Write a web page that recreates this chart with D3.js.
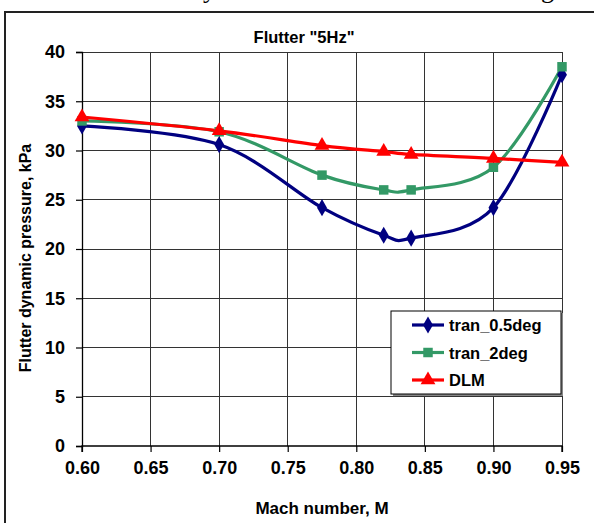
<!DOCTYPE html>
<html><head><meta charset="utf-8">
<script src="https://cdn.jsdelivr.net/npm/d3@7"></script>
<style>
body{margin:0;background:#fff;}
svg{display:block;font-family:"Liberation Sans",Arial,sans-serif;}
</style></head>
<body>
<svg id="c" width="594" height="523"></svg>
<script>
const mach = [0.60, 0.70, 0.775, 0.82, 0.84, 0.90, 0.95];
const tran05 = [32.5, 30.6, 24.2, 21.4, 21.1, 24.2, 37.7];
const tran2 = [33.0, 31.9, 27.5, 26.0, 26.0, 28.3, 38.5];
const dlm = [33.4, 32.0, 30.5, 29.9, 29.6, 29.2, 28.8];
const seriesNames = ["tran_0.5deg", "tran_2deg", "DLM"];
const xTicks = [0.60, 0.65, 0.70, 0.75, 0.80, 0.85, 0.90, 0.95];
const yTicks = [0, 5, 10, 15, 20, 25, 30, 35, 40];

const svg = d3.select("#c");
const x = d3.scaleLinear().domain([0.60, 0.95]).range([82, 562]);
const y = d3.scaleLinear().domain([0, 40]).range([446, 52]);

// partial document text above the figure
svg.append("text").attr("x", 203).attr("y", -2).attr("font-family", "Liberation Serif")
  .attr("font-size", 26).text("y");
svg.append("text").attr("x", 541).attr("y", -2).attr("font-family", "Liberation Serif")
  .attr("font-size", 26).text("g");

// outer frame
svg.append("rect").attr("x", 5).attr("y", 12).attr("width", 600).attr("height", 520)
  .attr("fill", "none").attr("stroke", "#222").attr("stroke-width", 2);

// title
svg.append("text").attr("x", 304).attr("y", 43).attr("text-anchor", "middle")
  .attr("font-weight", "bold").attr("font-size", 16.5).text('Flutter "5Hz"');

// grid
const g = svg.append("g");
g.selectAll(".hg").data(yTicks.filter(d => d > 0)).join("line")
  .attr("x1", x(0.60)).attr("x2", x(0.95)).attr("y1", d => y(d)).attr("y2", d => y(d))
  .attr("stroke", "#333").attr("stroke-width", 1).attr("shape-rendering", "crispEdges");
g.selectAll(".vg").data(xTicks.filter(d => d > 0.6)).join("line")
  .attr("y1", y(0)).attr("y2", y(40)).attr("x1", d => x(d)).attr("x2", d => x(d))
  .attr("stroke", "#333").attr("stroke-width", 1).attr("shape-rendering", "crispEdges");

// axes
const xAxis = d3.axisBottom(x).tickValues(xTicks).tickFormat(d3.format(".2f")).tickSize(6).tickPadding(9);
const yAxis = d3.axisLeft(y).tickValues(yTicks).tickFormat(d3.format("d")).tickSize(6).tickPadding(11);
const gx = svg.append("g").attr("transform", `translate(0,${y(0)})`).call(xAxis);
const gy = svg.append("g").attr("transform", `translate(${x(0.60)},0)`).call(yAxis);
[gx, gy].forEach(a => {
  a.select(".domain").attr("stroke", "#000").attr("stroke-width", 1.3);
  a.selectAll(".tick line").attr("stroke", "#000").attr("stroke-width", 1.2);
  a.selectAll("text").attr("font-family", "Liberation Sans").attr("font-weight", "bold")
    .attr("font-size", 18).attr("fill", "#000");
});
gx.select(".domain").attr("d", `M${x(0.60)},6V0H${x(0.95)}V6`);

// axis titles
svg.append("text").attr("x", 322).attr("y", 514).attr("text-anchor", "middle")
  .attr("font-weight", "bold").attr("font-size", 17).text("Mach number, M");
svg.append("text").attr("transform", "translate(31,258) rotate(-90)").attr("text-anchor", "middle")
  .attr("font-weight", "bold").attr("font-size", 16).text("Flutter dynamic pressure, kPa");

// series
const series = [
  {name: seriesNames[0], vals: tran05, color: "#000080", sym: d3.symbolDiamond, size: 85},
  {name: seriesNames[1], vals: tran2, color: "#339966", sym: d3.symbolSquare, size: 90},
  {name: seriesNames[2], vals: dlm, color: "#ff0000", sym: d3.symbolTriangle, size: 95}
];
const line = d3.line().x(d => x(d[0])).y(d => y(d[1])).curve(d3.curveCardinal.tension(0));
const plotG = svg.append("g");
series.forEach(s => {
  const pts = mach.map((m, i) => [m, s.vals[i]]);
  plotG.append("path").attr("d", line(pts)).attr("fill", "none")
    .attr("stroke", s.color).attr("stroke-width", 3.2);
});
series.forEach(s => {
  const pts = mach.map((m, i) => [m, s.vals[i]]);
  plotG.selectAll(null).data(pts).join("path")
    .attr("transform", d => `translate(${x(d[0])},${y(d[1])})`)
    .attr("d", d3.symbol().type(s.sym).size(s.size)).attr("fill", s.color);
});

// legend
const lg = svg.append("g");
lg.append("rect").attr("x", 393).attr("y", 313).attr("width", 170).attr("height", 83).attr("fill", "#888");
lg.append("rect").attr("x", 391).attr("y", 311).attr("width", 170).attr("height", 83)
  .attr("fill", "#fff").attr("stroke", "#000").attr("stroke-width", 1);
series.forEach((s, i) => {
  const yy = 325 + i * 27.5;
  lg.append("line").attr("x1", 412).attr("x2", 444).attr("y1", yy).attr("y2", yy)
    .attr("stroke", s.color).attr("stroke-width", 3.2);
  lg.append("path").attr("transform", `translate(428,${yy})`)
    .attr("d", d3.symbol().type(s.sym).size(s.size)).attr("fill", s.color);
  lg.append("text").attr("x", 449).attr("y", yy + 6).attr("font-weight", "bold")
    .attr("font-size", 16.5).text(s.name);
});
</script>
</body></html>
